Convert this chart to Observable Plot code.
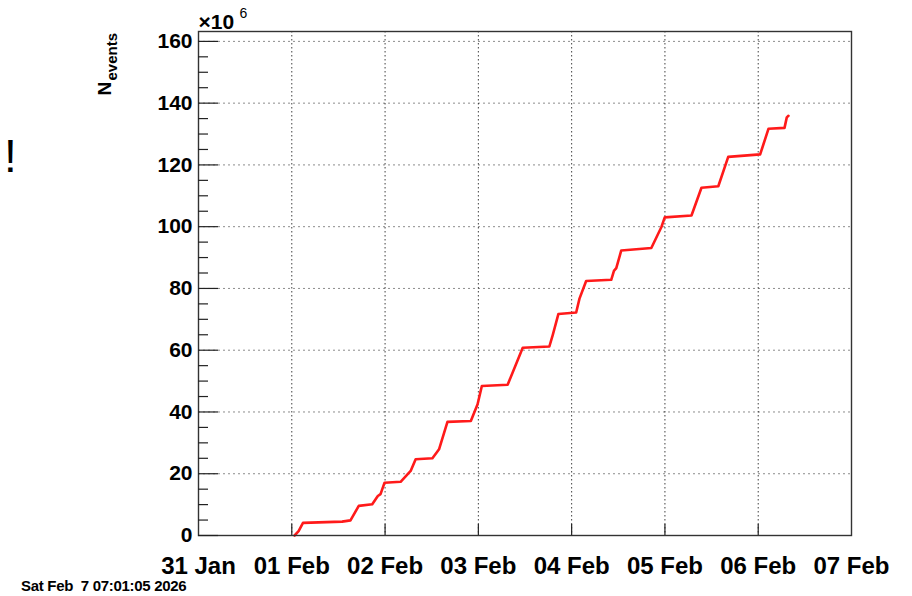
<!DOCTYPE html>
<html>
<head>
<meta charset="utf-8">
<script src="https://cdn.jsdelivr.net/npm/d3@7"></script>
<script src="https://cdn.jsdelivr.net/npm/@observablehq/plot@0.6"></script>
<style>
  html, body { margin: 0; padding: 0; background: #fff; }
  #chart { position: relative; width: 912px; height: 596px; overflow: hidden; }
  #chart svg { position: absolute; left: 0; top: 0; }
</style>
</head>
<body>
<div id="chart"></div>
<script>
// ---- data ----
const times = [
  "2026-02-01T00:43", "2026-02-01T01:45", "2026-02-01T02:53", "2026-02-01T12:57",
  "2026-02-01T15:06", "2026-02-01T17:14", "2026-02-01T20:42", "2026-02-01T22:08",
  "2026-02-01T22:50", "2026-02-01T23:52", "2026-02-02T04:00", "2026-02-02T06:35",
  "2026-02-02T07:52", "2026-02-02T12:11", "2026-02-02T13:28", "2026-02-02T13:53",
  "2026-02-02T16:03", "2026-02-02T22:04", "2026-02-02T23:48", "2026-02-03T00:54",
  "2026-02-03T07:32", "2026-02-03T11:25", "2026-02-03T18:16", "2026-02-03T19:09",
  "2026-02-03T20:35", "2026-02-04T01:10", "2026-02-04T02:01", "2026-02-04T03:44",
  "2026-02-04T10:11", "2026-02-04T10:53", "2026-02-04T11:29", "2026-02-04T12:46",
  "2026-02-04T20:30", "2026-02-04T21:48", "2026-02-04T23:06", "2026-02-04T23:57",
  "2026-02-05T06:50", "2026-02-05T09:24", "2026-02-05T13:44", "2026-02-05T16:17",
  "2026-02-06T00:30", "2026-02-06T02:38", "2026-02-06T06:46", "2026-02-06T07:21",
  "2026-02-06T07:47"
];
const nEvents = [ // in units of 10^6
  0.0, 1.4, 4.1, 4.5,
  4.9, 9.6, 10.1, 12.8,
  13.4, 17.1, 17.4, 20.9,
  24.7, 25.0, 27.2, 27.9,
  36.8, 37.1, 42.5, 48.4,
  48.8, 60.8, 61.2, 65.0,
  71.7, 72.2, 76.7, 82.4,
  82.8, 85.7, 86.6, 92.3,
  93.1, 96.5, 99.9, 103.0,
  103.6, 112.6, 113.1, 122.6,
  123.4, 131.7, 132.0, 135.4,
  135.9
];
const dayTicks = ["2026-01-31", "2026-02-01", "2026-02-02", "2026-02-03",
                  "2026-02-04", "2026-02-05", "2026-02-06", "2026-02-07"];
const yMajor = [0, 20, 40, 60, 80, 100, 120, 140, 160];
const yMinor = [5,10,15,25,30,35,45,50,55,65,70,75,85,90,95,105,110,115,125,130,135,145,150,155];
const yTitleMain = "N";
const yTitleSub = "events";
const exponentBase = "×10";
const exponentPow = "6";
const timestamp = "Sat Feb  7 07:01:05 2026";
const strayText = "!";

// ---- build ----
const parseT = d3.utcParse("%Y-%m-%dT%H:%M");
const parseD = d3.utcParse("%Y-%m-%d");
const data = times.map((t, i) => ({t: parseT(t), v: nEvents[i]}));
const days = dayTicks.map(parseD);
const innerDays = days.slice(1, -1);
const fmt = d3.utcFormat("%d %b");
const FONT = "Liberation Sans, Arial, Helvetica, sans-serif";

const chart = Plot.plot({
  width: 912,
  height: 596,
  marginLeft: 198,
  marginRight: 61,
  marginTop: 31,
  marginBottom: 61,
  style: {fontFamily: FONT, background: "#fff", overflow: "visible"},
  x: {type: "utc", domain: [days[0], days[days.length - 1]], axis: null},
  y: {domain: [0, 163.2], axis: null},
  marks: [
    // grids
    Plot.gridY(yMajor.slice(1), {stroke: "#000", strokeOpacity: 0.45, strokeWidth: 1, strokeDasharray: "2,3"}),
    Plot.gridX(innerDays, {stroke: "#000", strokeOpacity: 0.75, strokeWidth: 1, strokeDasharray: "1.5,2.5"}),
    // data line
    Plot.line(data, {x: "t", y: "v", stroke: "#ff1a1a", strokeWidth: 2.6, curve: "linear"}),
    // frame
    Plot.frame({stroke: "#333", strokeWidth: 1.4}),
    // y ticks (inward)
    Plot.axisY(yMajor, {anchor: "left", tickSize: -20, text: null, label: null, stroke: "#222", strokeWidth: 1.2}),
    Plot.axisY(yMinor, {anchor: "left", tickSize: -10, text: null, label: null, stroke: "#222", strokeWidth: 1.2}),
    Plot.axisY(yMajor, {anchor: "left", tickSize: 0, tickPadding: 6, fontSize: 21, fontWeight: "bold", label: null,
      fill: "#000", letterSpacing: "1.3px", tickFormat: d => String(d)}),
    // x ticks (inward) and labels
    Plot.axisX(innerDays, {anchor: "bottom", tickSize: -11, text: null, label: null, stroke: "#222", strokeWidth: 1.2}),
    Plot.axisX(days, {anchor: "bottom", tickSize: 0, tickPadding: 21, fontSize: 24, fontWeight: "bold", label: null,
      fill: "#000", tickFormat: fmt}),
    // exponent label
    Plot.text([exponentBase], {frameAnchor: "top-left", dx: 0, dy: -3, text: d => d, textAnchor: "start",
      lineAnchor: "bottom", fontSize: 21, fontWeight: 600, fill: "#000"}),
    Plot.text([exponentPow], {frameAnchor: "top-left", dx: 41, dy: -14, text: d => d, textAnchor: "start",
      lineAnchor: "bottom", fontSize: 14, fill: "#000"}),
    // y title N_events
    Plot.text([yTitleMain], {frameAnchor: "top-left", dx: -88, dy: 64, rotate: -90, text: d => d,
      textAnchor: "start", lineAnchor: "bottom", fontSize: 19, fontWeight: "bold", fill: "#000"}),
    Plot.text([yTitleSub], {frameAnchor: "top-left", dx: -82, dy: 49, rotate: -90, text: d => d,
      textAnchor: "start", lineAnchor: "bottom", fontSize: 15, fontWeight: "bold", fill: "#000"})
  ]
});

// texts outside the frame region of the original canvas
const svg = d3.select(chart);
svg.append("text")
  .attr("x", 21).attr("y", 591)
  .attr("text-anchor", "start")
  .attr("font-family", FONT).attr("font-size", 15).attr("font-weight", "bold")
  .attr("letter-spacing", "-0.3px")
  .style("white-space", "pre")
  .text(timestamp);
svg.append("text")
  .attr("x", 4).attr("y", 172)
  .attr("text-anchor", "start")
  .attr("font-family", FONT).attr("font-size", 46)
  .text(strayText);

document.getElementById("chart").appendChild(chart);
</script>
</body>
</html>
